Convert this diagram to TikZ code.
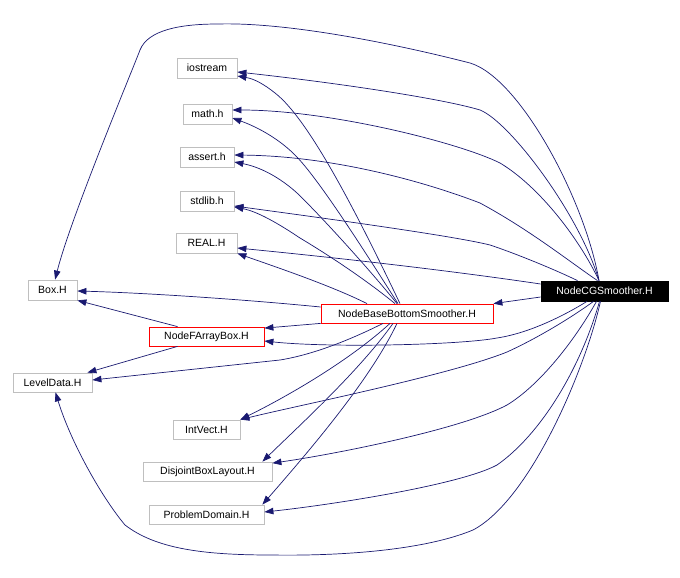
\documentclass[tikz,border=0pt]{standalone}
\usepackage{fontspec}
\setmainfont{Liberation Sans}
\usetikzlibrary{arrows.meta}
\definecolor{edgeblue}{HTML}{191970}
\definecolor{boxgray}{HTML}{BFBFBF}
\begin{document}
\begin{tikzpicture}[x=1pt,y=-1pt,
  file/.style={draw=boxgray, line width=0.8pt, minimum height=20pt, inner sep=0pt, font=\fontsize{10.5}{12}\selectfont},
  redfile/.style={file, draw=red},
  mainfile/.style={file, draw=black, fill=black, text=white},
  dep/.style={draw=edgeblue, line width=0.7pt, -{Triangle[length=9pt,width=6.5pt]}}
]
\useasboundingbox (0,0) rectangle (680,578);
\node[file, minimum width=60pt] (io) at (207,68) {iostream};
\node[file, minimum width=49pt] (math) at (207.5,114) {math.h};
\node[file, minimum width=54pt] (assert) at (207,157) {assert.h};
\node[file, minimum width=54pt] (stdlib) at (207,201) {stdlib.h};
\node[file, minimum width=61pt] (real) at (206.5,243) {REAL.H};
\node[file, minimum width=49pt] (box) at (52.5,290) {Box.H};
\node[redfile, minimum width=115pt, minimum height=19pt] (nfab) at (206.5,336.5) {NodeFArrayBox.H};
\node[file, minimum width=79pt, minimum height=19pt] (ld) at (52.5,382.5) {LevelData.H};
\node[redfile, minimum width=172pt, minimum height=19pt] (nb) at (407,313.5) {NodeBaseBottomSmoother.H};
\node[mainfile, minimum width=127pt] (cg) at (604.5,291) {NodeCGSmoother.H};
\node[file, minimum width=67pt, minimum height=19pt] (iv) at (206.5,429.5) {IntVect.H};
\node[file, minimum width=129pt, minimum height=19pt] (dbl) at (207.5,471.5) {DisjointBoxLayout.H};
\node[file, minimum width=115pt, minimum height=19pt] (pd) at (206.5,514.5) {ProblemDomain.H};

% from NodeCGSmoother.H
\draw[dep] ([xshift=-5.5pt]cg.north) .. controls (585,200) and (520,78) .. (470,63)
  .. controls (400,45) and (290,22) .. (218,24)
  .. controls (180,24) and (148,30) .. (140,50)
  .. controls (130,76) and (70,220) .. (box);
\draw[dep] ([xshift=-5.5pt]cg.north) .. controls (580,215) and (510,122) .. (480,110)
  .. controls (440,98) and (330,82) .. ([yshift=-4pt]io.east);
\draw[dep] ([xshift=-5.5pt]cg.north) .. controls (580,240) and (540,187) .. (500,163)
  .. controls (460,143) and (330,110) .. ([yshift=4pt]math.east);
\draw[dep] ([xshift=-7pt]cg.north) .. controls (570,262) and (530,230) .. (480,203)
  .. controls (420,180) and (330,156) .. ([yshift=2pt]assert.east);
\draw[dep] ([xshift=-27pt]cg.north) .. controls (560,272) and (520,255) .. (490,245)
  .. controls (450,235) and (300,215) .. ([yshift=-5pt]stdlib.east);
\draw[dep] ([yshift=7pt]cg.west) .. controls (480,275) and (380,262) .. ([yshift=-5pt]real.east);
\draw[dep] ([yshift=-6pt]cg.west) -- (nb.north east);
\draw[dep] ([xshift=-17.5pt]cg.south) .. controls (565,315) and (530,333) .. (497,338)
  .. controls (460,345) and (330,348) .. ([yshift=-4.5pt]nfab.east);
\draw[dep] ([xshift=-11pt]cg.south) .. controls (575,315) and (540,337) .. (507,352)
  .. controls (450,375) and (300,405) .. (iv.north east);
\draw[dep] ([xshift=-8pt]cg.south) .. controls (575,340) and (540,385) .. (507,405)
  .. controls (460,430) and (330,455) .. ([yshift=-1.5pt]dbl.north east);
\draw[dep] ([xshift=-5pt]cg.south) .. controls (580,370) and (540,435) .. (497,465)
  .. controls (460,485) and (330,505) .. ([yshift=2.5pt]pd.east);
\draw[dep] ([xshift=-4pt]cg.south) .. controls (585,370) and (530,500) .. (473,530)
  .. controls (420,552) and (330,556) .. (271,555)
  .. controls (200,555) and (155,548) .. (125,525)
  .. controls (100,495) and (70,440) .. (ld);

% from NodeBaseBottomSmoother.H
\draw[dep] ([xshift=-7pt]nb.north) .. controls (360,220) and (310,120) .. (275,93)
  .. controls (265,85) and (255,79) .. ([yshift=-8pt]io.east);
\draw[dep] ([xshift=-9pt]nb.north) .. controls (370,260) and (320,180) .. (295,155)
  .. controls (280,140) and (260,128) .. ([yshift=-4pt]math.east);
\draw[dep] ([xshift=-10pt]nb.north) .. controls (370,270) and (320,215) .. (297,193)
  .. controls (285,182) and (265,168) .. ([yshift=-5pt]assert.east);
\draw[dep] ([xshift=-12pt]nb.north) .. controls (360,275) and (320,250) .. (300,238)
  .. controls (285,228) and (260,212) .. ([yshift=-6pt]stdlib.east);
\draw[dep] ([xshift=-40pt]nb.north) .. controls (330,285) and (270,265) .. (real.south east);
\draw[dep] ([yshift=6.5pt]nb.west) .. controls (250,300) and (150,293) .. ([yshift=-1pt]box.east);
\draw[dep] (nb.south west) -- ([yshift=-1.5pt]nfab.north east);
\draw[dep] ([xshift=-24pt]nb.south) .. controls (340,345) and (305,356) .. (280,360) -- ([yshift=2.5pt]ld.east);
\draw[dep] ([xshift=-17pt]nb.south) .. controls (350,360) and (290,395) .. (iv.north east);
\draw[dep] ([xshift=-14pt]nb.south) .. controls (360,370) and (300,425) .. ([xshift=-10pt]dbl.north east);
\draw[dep] ([xshift=-10pt]nb.south) .. controls (370,380) and (310,450) .. ([xshift=-2pt]pd.north east);

% from NodeFArrayBox.H
\draw[dep] ([xshift=-29pt]nfab.north) -- (box.south east);
\draw[dep] ([xshift=-29pt]nfab.south) -- ([xshift=-5pt]ld.north east);
\end{tikzpicture}
\end{document}
